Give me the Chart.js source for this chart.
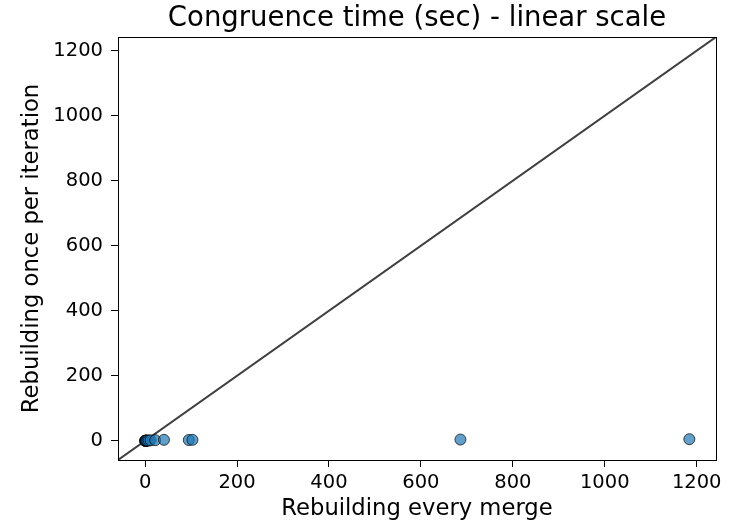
<!DOCTYPE html>
<html><head><meta charset="utf-8">
<script src="https://cdn.jsdelivr.net/npm/chart.js@4"></script>
<style>html,body{margin:0;padding:0;background:#fff}#wrap{width:738px;height:530px}</style>
</head><body><div id="wrap"><canvas id="c" width="738" height="530"></canvas></div>
<script>
const xValues = [0, 0.3, 0.6, 1, 1.5, 2, 3, 5, 8, 12, 22, 41, 95, 103, 686, 1184];
const yValues = [0, 0.1, 0.2, 0.3, 0.4, 0.5, 0.6, 0.8, 1, 1.5, 2, 3, 2.5, 3, 4, 5];
const axisRange = [-59, 1242];
const tickValues = [0, 200, 400, 600, 800, 1000, 1200];
const titleText = 'Congruence time (sec) - linear scale';
const xTitle = 'Rebuilding every merge';
const yTitle = 'Rebuilding once per iteration';

const pts = xValues.map((x, i) => ({x: x, y: yValues[i]}));
const diag = axisRange.map(v => ({x: v, y: v}));

const frameAndTitle = {
  id: 'frameAndTitle',
  afterDraw(chart) {
    const a = chart.chartArea, ctx = chart.ctx;
    ctx.save();
    ctx.strokeStyle = '#000';
    ctx.lineWidth = 1;
    ctx.strokeRect(Math.round(a.left) + 0.5, Math.round(a.top) + 0.5, Math.round(a.right - a.left), Math.round(a.bottom - a.top));
    ctx.fillStyle = '#000';
    ctx.font = '27.5px "DejaVu Sans"';
    ctx.textAlign = 'center';
    ctx.textBaseline = 'middle';
    ctx.fillText(titleText, (a.left + a.right) / 2, 19);
    ctx.restore();
  }
};

const tickFont = {family: 'DejaVu Sans', size: 19.5};
const labelFont = {family: 'DejaVu Sans', size: 22.7};
new Chart(document.getElementById('c'), {
  type: 'scatter',
  data: {
    datasets: [
      {type: 'line', data: diag, borderColor: '#404040', borderWidth: 2, pointRadius: 0, fill: false, order: 2},
      {data: pts, backgroundColor: 'rgba(31,119,180,0.7)', borderColor: 'rgba(0,0,0,0.7)', borderWidth: 1, pointRadius: 5.5, pointHoverRadius: 5.5, order: 1}
    ]
  },
  options: {
    responsive: false, animation: false, events: [],
    layout: {padding: {top: 37, right: 22, bottom: 0, left: 0}},
    plugins: {legend: {display: false}, tooltip: {enabled: false}, title: {display: false}},
    scales: {
      x: {
        type: 'linear', min: axisRange[0], max: axisRange[1],
        afterBuildTicks: s => { s.ticks = tickValues.map(v => ({value: v})); },
        afterFit: s => { s.height = 70; },
        grid: {drawOnChartArea: false, tickLength: 7, color: '#000', tickColor: '#000'},
        border: {display: false},
        ticks: {color: '#000', font: tickFont, padding: 4, maxRotation: 0, autoSkip: false, callback: v => String(v)},
        title: {display: true, text: xTitle, color: '#000', font: labelFont, padding: {top: 0, bottom: 7}}
      },
      y: {
        type: 'linear', min: axisRange[0], max: axisRange[1],
        afterBuildTicks: s => { s.ticks = tickValues.map(v => ({value: v})); },
        afterFit: s => { s.width = 118; },
        grid: {drawOnChartArea: false, tickLength: 7, color: '#000', tickColor: '#000'},
        border: {display: false},
        ticks: {color: '#000', font: tickFont, padding: 8, autoSkip: false, callback: v => String(v)},
        title: {display: true, text: yTitle, color: '#000', font: labelFont, padding: {top: 18, bottom: 0}}
      }
    }
  },
  plugins: [frameAndTitle]
});
</script></body></html>
